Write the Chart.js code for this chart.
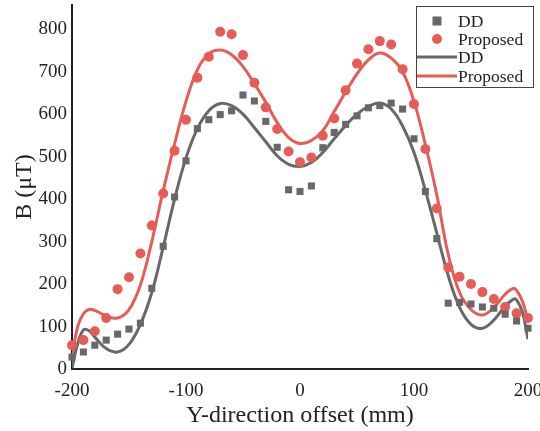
<!DOCTYPE html>
<html>
<head>
<meta charset="utf-8">
<script src="https://cdn.jsdelivr.net/npm/chart.js@4/dist/chart.umd.min.js"></script>
<style>
  html, body { margin: 0; padding: 0; background: #fff; }
  #wrap { width: 540px; height: 431px; }
</style>
</head>
<body>
<div id="wrap"><canvas id="c" width="540" height="431"></canvas></div>
<script>
// measured points, every 10 mm
const offsets = [-200,-190,-180,-170,-160,-150,-140,-130,-120,-110,-100,-90,-80,-70,-60,-50,-40,-30,-20,-10,
  0,10,20,30,40,50,60,70,80,90,100,110,120,130,140,150,160,170,180,190,200];
const ddPoints = [28,40,56,68,82,94,108,190,289,405,490,566,587,599,608,645,631,583,522,422,
  418,431,521,557,576,596,615,620,626,612,542,418,307,155,157,153,146,143,129,113,96];
const propPoints = [56,68,89,120,188,216,272,338,413,514,587,686,735,794,788,739,674,616,565,512,
  487,498,549,590,656,719,753,772,764,706,624,518,378,239,217,200,181,165,146,131,120];

// fitted curves
const fitX = [-200,-195,-190,-185,-180,-170,-160,-150,-140,-130,-120,-110,-100,-90,-80,-70,-60,-50,-40,-30,-20,-10,
  0,10,20,30,40,50,60,70,80,90,100,110,120,130,140,150,160,170,180,187,190,195,200];
const ddFit = [2,60,92,90,75,48,40,58,105,180,287,400,497,566,608,625,620,600,568,535,502,482,
  477,486,510,542,573,600,618,626,612,572,510,420,320,220,145,105,96,115,148,164,163,135,70];
const propFit = [30,100,130,140,138,125,120,140,198,300,420,530,630,705,742,751,740,712,672,628,580,545,
  531,538,561,606,652,695,728,744,732,700,630,528,410,270,180,140,127,145,176,190,185,160,115];

const xTicks = [-200,-100,0,100,200];
const yTicks = [0,100,200,300,400,500,600,700,800];

const GRAY = '#686868';
const RED = '#e65c57';
const SERIF = '"Liberation Serif", "Times New Roman", serif';

const pts = (xs, ys) => xs.map((x, i) => ({x: x, y: ys[i]}));

const boxLegend = {
  id: 'boxLegend',
  afterDraw(chart) {
    const ctx = chart.ctx;
    const x0 = 416, y0 = 6, w = 117, h = 81;
    ctx.save();
    ctx.fillStyle = '#fff';
    ctx.fillRect(x0, y0, w, h);
    ctx.strokeStyle = '#444';
    ctx.lineWidth = 1;
    ctx.strokeRect(x0 + 0.5, y0 + 0.5, w, h);
    ctx.font = '17.5px ' + SERIF;
    ctx.textBaseline = 'middle';
    ctx.textAlign = 'left';
    const rows = [21, 39, 57, 76];
    chart.data.datasets.forEach((ds, i) => {
      const y = rows[i];
      if (ds.showLine === false) {
        ctx.fillStyle = ds.backgroundColor;
        if (ds.pointStyle === 'rect') {
          ctx.fillRect(437 - 4.5, y - 4.5, 9, 9);
        } else {
          ctx.beginPath();
          ctx.arc(437, y, 5, 0, Math.PI * 2);
          ctx.fill();
        }
      } else {
        ctx.strokeStyle = ds.borderColor;
        ctx.lineWidth = 3;
        ctx.beginPath();
        ctx.moveTo(417, y);
        ctx.lineTo(457, y);
        ctx.stroke();
      }
      ctx.fillStyle = '#222';
      ctx.fillText(ds.label, 458, y + 1);
    });
    ctx.restore();
  }
};

new Chart(document.getElementById('c'), {
  type: 'scatter',
  data: {
    datasets: [
      { label: 'DD', data: pts(offsets, ddPoints), showLine: false, pointStyle: 'rect',
        pointRadius: 5, backgroundColor: GRAY, borderWidth: 0, clip: false },
      { label: 'Proposed', data: pts(offsets, propPoints), showLine: false, pointStyle: 'circle',
        pointRadius: 5, backgroundColor: RED, borderWidth: 0, clip: false },
      { label: 'DD', data: pts(fitX, ddFit), showLine: true, pointRadius: 0, borderColor: GRAY,
        borderWidth: 3, tension: 0.4, fill: false },
      { label: 'Proposed', data: pts(fitX, propFit), showLine: true, pointRadius: 0, borderColor: RED,
        borderWidth: 3, tension: 0.4, fill: false }
    ]
  },
  options: {
    responsive: false,
    animation: false,
    layout: { padding: { top: 4, right: 12, left: 0, bottom: 0 } },
    plugins: { legend: { display: false }, tooltip: { enabled: false } },
    scales: {
      x: {
        type: 'linear', min: -200, max: 200,
        afterBuildTicks: s => { s.ticks = xTicks.map(v => ({value: v})); },
        afterFit: s => { s.height = 62; s.paddingLeft = 0; s.paddingRight = 0; },
        grid: { display: false, drawTicks: false },
        border: { display: true, color: '#222', width: 2 },
        ticks: { color: '#222', font: { family: SERIF, size: 19 }, padding: 11, maxRotation: 0 },
        title: { display: true, text: 'Y-direction offset (mm)', color: '#222',
          font: { family: SERIF, size: 24 }, padding: { top: 1, bottom: 1 } }
      },
      y: {
        type: 'linear', min: 0, max: 857,
        afterBuildTicks: s => { s.ticks = yTicks.map(v => ({value: v})); },
        afterFit: s => { s.width = 72; s.paddingTop = 0; s.paddingBottom = 0; },
        grid: { display: false, drawTicks: false },
        border: { display: true, color: '#222', width: 2 },
        ticks: { color: '#222', font: { family: SERIF, size: 19 }, padding: 5 },
        title: { display: true, text: 'B (μT)', color: '#222',
          font: { family: SERIF, size: 24 }, padding: { top: 10, bottom: 10 } }
      }
    }
  },
  plugins: [boxLegend]
});
</script>
</body>
</html>
